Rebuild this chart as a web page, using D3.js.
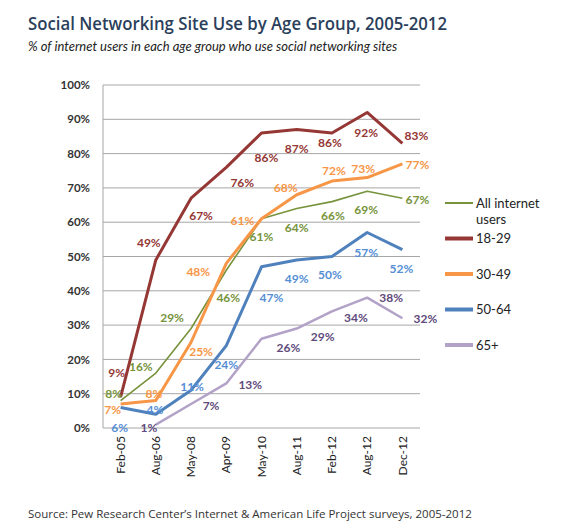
<!DOCTYPE html>
<html>
<head>
<meta charset="utf-8">
<script src="https://cdn.jsdelivr.net/npm/d3@7"></script>
<style>
    body { margin: 0; background: #fff; }
    svg { display: block; }
    .grid line { stroke: #a6a6a6; stroke-width: 1; }
    .y-axis text { font: bold 11.5px Lato, sans-serif; fill: #333; }
    .x-axis text { font: 12px Lato, sans-serif; fill: #222; }
    .pt-label { font: bold 12px Lato, sans-serif; }
    .legend text { font: 13px Lato, sans-serif; fill: #222; }
</style>
</head>
<body>
<div id="chart"></div>
<script>
// survey dates
const dates = ["Feb-05", "Aug-06", "May-08", "Apr-09", "May-10", "Aug-11", "Feb-12", "Aug-12", "Dec-12"];

// % of internet users in each group using social networking sites
const allUsers = [8, 16, 29, 46, 61, 64, 66, 69, 67];
const age18to29 = [9, 49, 67, 76, 86, 87, 86, 92, 83];
const age30to49 = [7, 8, 25, 48, 61, 68, 72, 73, 77];
const age50to64 = [6, 4, 11, 24, 47, 49, 50, 57, 52];
const age65plus = [null, 1, 7, 13, 26, 29, 34, 38, 32];

const seriesNames = ["All internet users", "18-29", "30-49", "50-64", "65+"];
const yTicks = [0, 10, 20, 30, 40, 50, 60, 70, 80, 90, 100];

// label nudges (px) so the percentages sit where the original put them
const labelDx = [
    [-7, -15, -19, 2, 0, 0, 1, -1, 15],
    [-4, -7, 10, 16, 5, 0, -2, -1, 14],
    [-8, -2, 10, -28, -19, -11, 2, -4, 15],
    [-1, -1, 1, 0, 10, 0, -2, -1, -1],
    [0, -7, 20, 24, 27, 26, 24, 24, 23]
];
const labelDy = [
    [-7, -6, -11, 28, 18, 19, 14, 18, 2],
    [-24, -17, 18, 15, 25, 19, 10, 20, -8],
    [6, -7, 10, 8, 2, -7, -10, -9, 1],
    [20, -4, -3, 19, 31, 19, 18, 20, 19],
    [0, 3, 2, 1, 9, 8, 6, 0, 1]
];

const lineColors = ["#77933c", "#953735", "#f79646", "#4f81bd", "#b3a2c7"];
const labelColors = ["#77933c", "#953735", "#f79646", "#558ed5", "#604a7b"];
const lineWidths = [1.6, 3, 3, 3, 2.5];

const width = 563, height = 529;
const margin = {top: 85, right: 143, bottom: 101, left: 103};

const svg = d3.select("#chart")
    .append("svg")
    .attr("width", width)
    .attr("height", height);

// title block
svg.append("text")
    .attr("x", 28)
    .attr("y", 30)
    .attr("fill", "#2b3f5c")
    .attr("textLength", 419)
    .attr("lengthAdjust", "spacingAndGlyphs")
    .style("font", "600 18.5px 'Open Sans', sans-serif")
    .text("Social Networking Site Use by Age Group, 2005-2012");

svg.append("text")
    .attr("x", 28)
    .attr("y", 51)
    .attr("fill", "#222")
    .style("font", "italic 13px Lato, sans-serif")
    .text("% of internet users in each age group who use social networking sites");

svg.append("text")
    .attr("x", 28)
    .attr("y", 518)
    .attr("fill", "#333")
    .style("font", "11.5px 'Open Sans', sans-serif")
    .text("Source: Pew Research Center\u2019s Internet & American Life Project surveys, 2005-2012");

const xScale = d3.scaleBand()
    .domain(dates)
    .range([margin.left, width - margin.right]);

const yScale = d3.scaleLinear()
    .domain([0, 100])
    .range([height - margin.bottom, margin.top]);

const xPos = d => xScale(d) + xScale.bandwidth() / 2;

// gridlines
svg.append("g")
    .attr("class", "grid")
    .selectAll("line")
    .data(yTicks)
    .join("line")
    .attr("x1", margin.left)
    .attr("x2", width - margin.right)
    .attr("y1", d => yScale(d))
    .attr("y2", d => yScale(d));

svg.append("line")
    .attr("x1", margin.left).attr("x2", margin.left)
    .attr("y1", yScale(0)).attr("y2", yScale(100))
    .attr("stroke", "#a6a6a6");

const yAxis = d3.axisLeft(yScale)
    .tickValues(yTicks)
    .tickSize(0)
    .tickPadding(13)
    .tickFormat(d => d + "%");

svg.append("g")
    .attr("class", "y-axis")
    .attr("transform", `translate(${margin.left},0)`)
    .call(yAxis)
    .call(g => g.select(".domain").remove());

const xAxis = d3.axisBottom(xScale).tickSize(0).tickPadding(0);

svg.append("g")
    .attr("class", "x-axis")
    .attr("transform", `translate(0,${yScale(0)})`)
    .call(xAxis)
    .call(g => g.select(".domain").remove())
    .selectAll("text")
    .attr("transform", "rotate(-90)")
    .attr("x", -8)
    .attr("y", 0)
    .attr("dy", "0.35em")
    .style("text-anchor", "end");

const allSeries = [allUsers, age18to29, age30to49, age50to64, age65plus];

const line = d3.line()
    .defined(d => d.v !== null)
    .x(d => xPos(d.date))
    .y(d => yScale(d.v));

const seriesData = allSeries.map((vals, s) => vals.map((v, i) => ({
    date: dates[i], v: v, s: s, i: i
})));

svg.append("g")
    .selectAll("path")
    .data(seriesData)
    .join("path")
    .attr("fill", "none")
    .attr("stroke", (d, s) => lineColors[s])
    .attr("stroke-width", (d, s) => lineWidths[s])
    .attr("stroke-linejoin", "round")
    .attr("d", line);

const labels = svg.append("g");

seriesData.forEach(pts => {
    labels.selectAll(null)
        .data(pts.filter(d => d.v !== null))
        .join("text")
        .attr("class", "pt-label")
        .attr("x", d => xPos(d.date) + labelDx[d.s][d.i])
        .attr("y", d => yScale(d.v) + labelDy[d.s][d.i])
        .attr("dy", "0.35em")
        .attr("text-anchor", "middle")
        .attr("fill", d => labelColors[d.s])
        .text(d => d.v + "%");
});

// legend
const legend = svg.append("g")
    .attr("class", "legend")
    .attr("transform", "translate(445,203)");

const legendRow = legend.selectAll("g")
    .data(seriesNames)
    .join("g")
    .attr("transform", (d, i) => `translate(0,${i * 35.5})`);

legendRow.append("line")
    .attr("x1", 0).attr("x2", 28)
    .attr("stroke", (d, i) => lineColors[i])
    .attr("stroke-width", (d, i) => i === 0 ? 2 : 4);

legendRow.append("text")
    .attr("x", 31)
    .attr("dy", "0.35em")
    .each(function(d) {
        const parts = d === "All internet users" ? ["All internet", "users"] : [d];
        d3.select(this).selectAll("tspan")
            .data(parts)
            .join("tspan")
            .attr("x", 31)
            .attr("dy", (p, k) => k === 0 ? "0.35em" : "1.3em")
            .text(p => p);
    });
</script>
</body>
</html>
